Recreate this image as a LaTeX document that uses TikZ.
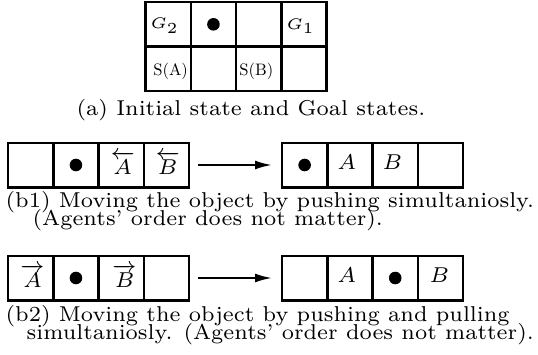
\documentclass[tikz,border=0pt]{standalone}
\usetikzlibrary{arrows.meta, positioning}

\newcommand{\lifted}[1]{\raisebox{0pt}[1.2\height]{$#1$}}

\begin{document}
\begin{tikzpicture}[
    x=0.3255pt,  % 1単位 = 参照画像の1px
    y=-0.3255pt, % 下向き
    cell/.style={draw, line width=0.8pt, minimum width=14.75pt, minimum height=14.5pt, inner sep=0pt, outer sep=0pt},
    obj/.style={circle, fill=black, minimum size=4.1pt, inner sep=0pt},
    agent/.style={anchor=base west, inner sep=0pt, font=\fontsize{7}{8}\selectfont},
    celltag/.style={anchor=base west, inner sep=0pt, font=\fontsize{10}{12}\selectfont, scale=0.54},
    goal/.style={anchor=base west, inner sep=0pt, font=\fontsize{4.4}{5}\selectfont},
    captxt/.style={anchor=base west, inner sep=0pt, font=\fontsize{7}{6}\selectfont},
    move/.style={-{Latex[length=5.5pt, width=2.9pt]}, line width=0.65pt, shorten <=2.93pt, shorten >=3.26pt}
]
    \useasboundingbox (0,0) rectangle (538,354);

    % --- (a) 初期状態とゴール ---
    \foreach \i in {1,...,4} {
        \node[cell] (a1-\i) at ({168.15+45.3*(\i-1)}, 24.3) {};
        \node[cell] (a2-\i) at ({168.15+45.3*(\i-1)}, 68.8) {};
    }
    \node[obj] (a-obj) at (a1-2) {};
    \node[goal] (g2) at (150, 28.5) {$G_2$};
    \node[goal] (g1) at (286, 29) {$G_1$};
    \node[celltag] (sa) at (153, 75) {S(A)};
    \node[celltag] (sb) at (239, 75) {S(B)};
    \node[captxt] (cap-a) at (76, 115.5) {(a) Initial state and Goal states.};

    % --- (b1) 同時に押す ---
    \foreach \i in {1,...,4} {
        \node[cell] (b1l-\i) at ({30.65+45.3*(\i-1)}, 165) {};
        \node[cell] (b1r-\i) at ({304.65+45.3*(\i-1)}, 165) {};
    }
    \node[obj] (b1l-obj) at (b1l-2) {};
    \node[agent] (b1l-a) at (110, 174) {$\overleftarrow{\lifted{A}}$};
    \node[agent] (b1l-b) at (155, 174) {$\overleftarrow{\lifted{B}}$};
    \draw[move] (b1l-4.east) -- (b1r-1.west);
    \node[obj] (b1r-obj) at (b1r-1) {};
    \node[agent] (b1r-a) at (337, 169.5) {$A$};
    \node[agent] (b1r-b) at (382, 169.5) {$B$};
    \node[captxt] (cap-b1) at (5, 207) {(b1) Moving the object by pushing simultaniosly.};
    \node[captxt] (cap-b1x) at (32, 225.5) {(Agents' order does not matter).};

    % --- (b2) 押しと引きを同時に ---
    \foreach \i in {1,...,4} {
        \node[cell] (b2l-\i) at ({30.65+45.3*(\i-1)}, 278) {};
        \node[cell] (b2r-\i) at ({304.65+45.3*(\i-1)}, 278) {};
    }
    \node[agent] (b2l-a) at (20, 287) {$\overrightarrow{\lifted{A}}$};
    \node[obj] (b2l-obj) at (b2l-2) {};
    \node[agent] (b2l-b) at (112, 287) {$\overrightarrow{\lifted{B}}$};
    \draw[move] (b2l-4.east) -- (b2r-1.west);
    \node[agent] (b2r-a) at (337, 282.5) {$A$};
    \node[obj] (b2r-obj) at (b2r-3) {};
    \node[agent] (b2r-b) at (429, 282.5) {$B$};
    \node[captxt] (cap-b2) at (5, 321) {(b2) Moving the object by pushing and pulling};
    \node[captxt] (cap-b2x) at (26, 339.5) {simultaniosly. (Agents' order does not matter).};
\end{tikzpicture}
\end{document}
